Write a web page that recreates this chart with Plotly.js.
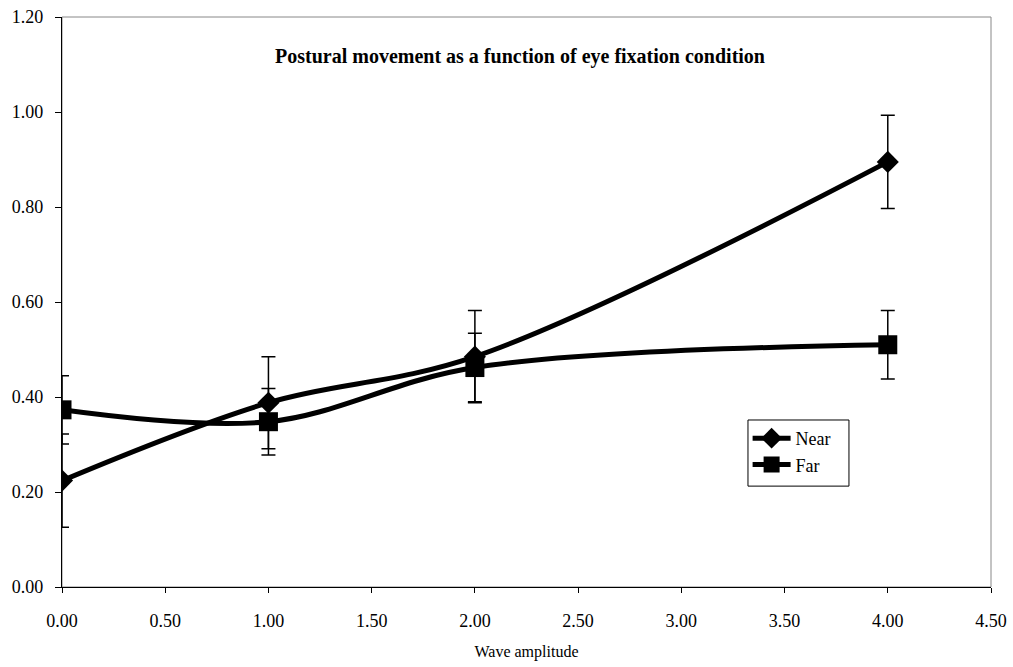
<!DOCTYPE html>
<html>
<head>
<meta charset="utf-8">
<script src="https://cdn.plot.ly/plotly-3.0.1.min.js"></script>
<style>html,body{margin:0;padding:0;background:#fff;}#chart{width:1013px;height:667px;}</style>
</head>
<body>
<div id="chart"></div>
<script>
const amplitudes = [0, 1, 2, 4];
const nearValues = [0.224, 0.388, 0.485, 0.895];
const nearErrors = [0.098, 0.097, 0.097, 0.098];
const farValues = [0.373, 0.348, 0.462, 0.510];
const farErrors = [0.072, 0.070, 0.072, 0.072];
const seriesNames = ["Near", "Far"];
const xTickVals = [0, 0.5, 1, 1.5, 2, 2.5, 3, 3.5, 4, 4.5];
const yTickVals = [0, 0.2, 0.4, 0.6, 0.8, 1.0, 1.2];
const chartTitle = "Postural movement as a function of eye fixation condition";
const xTitle = "Wave amplitude";

const FONT = "Liberation Serif, Times New Roman, serif";

const traces = [
  {
    x: amplitudes, y: nearValues, name: seriesNames[0], type: "scatter", mode: "lines+markers",
    line: {color: "#000", width: 5, shape: "spline", smoothing: 1},
    marker: {symbol: "diamond", size: 17, color: "#000"},
    error_y: {type: "data", array: nearErrors, visible: true, color: "#000", thickness: 1.5, width: 7}
  },
  {
    x: amplitudes, y: farValues, name: seriesNames[1], type: "scatter", mode: "lines+markers",
    line: {color: "#000", width: 5, shape: "spline", smoothing: 1},
    marker: {symbol: "square", size: 19, color: "#000"},
    error_y: {type: "data", array: farErrors, visible: true, color: "#000", thickness: 1.5, width: 7}
  }
];

const layout = {
  width: 1013, height: 667,
  margin: {l: 62, r: 22, t: 17, b: 80, pad: 0},
  paper_bgcolor: "#fff", plot_bgcolor: "#fff",
  font: {family: FONT, size: 17, color: "#000"},
  showlegend: true,
  legend: {
    x: 0.738, y: 0.293, xanchor: "left", yanchor: "top",
    bgcolor: "rgba(0,0,0,0)", borderwidth: 0,
    font: {family: FONT, size: 18, color: "#000"},
    tracegroupgap: 0, itemwidth: 38
  },
  xaxis: {
    range: [0, 4.5], tickvals: xTickVals, ticktext: xTickVals.map(v => v.toFixed(2)),
    showgrid: false, zeroline: false, showline: true, linecolor: "#000", linewidth: 1.2,
    ticks: "outside", ticklen: 5, tickcolor: "#000", tickwidth: 1,
    ticklabelstandoff: 12,
    tickfont: {family: FONT, size: 18, color: "#000"},
    title: {text: xTitle, font: {family: FONT, size: 16, color: "#000"}, standoff: 16}
  },
  yaxis: {
    range: [0, 1.2], tickvals: yTickVals, ticktext: yTickVals.map(v => v.toFixed(2)),
    showgrid: false, zeroline: false, showline: true, linecolor: "#000", linewidth: 1.2,
    ticks: "outside", ticklen: 6, tickcolor: "#000", tickwidth: 1,
    ticklabelstandoff: 8,
    tickfont: {family: FONT, size: 18, color: "#000"}
  },
  shapes: [
    {
      type: "rect", xref: "paper", yref: "paper", x0: 0, x1: 1, y0: 0, y1: 1,
      line: {color: "#888", width: 1}, layer: "below"
    },
    {
      type: "rect", xref: "paper", yref: "paper", x0: 0.7384, x1: 0.8471, y0: 0.177, y1: 0.293,
      line: {color: "#000", width: 1}, fillcolor: "#fff", layer: "above"
    }
  ],
  annotations: [{
    text: "<b>" + chartTitle + "</b>", xref: "paper", yref: "paper", x: 0.4925, y: 0.931,
    xanchor: "center", yanchor: "middle", showarrow: false,
    font: {family: FONT, size: 20, color: "#000"}
  }]
};

Plotly.newPlot("chart", traces, layout, {displayModeBar: false, staticPlot: true});
</script>
</body>
</html>
